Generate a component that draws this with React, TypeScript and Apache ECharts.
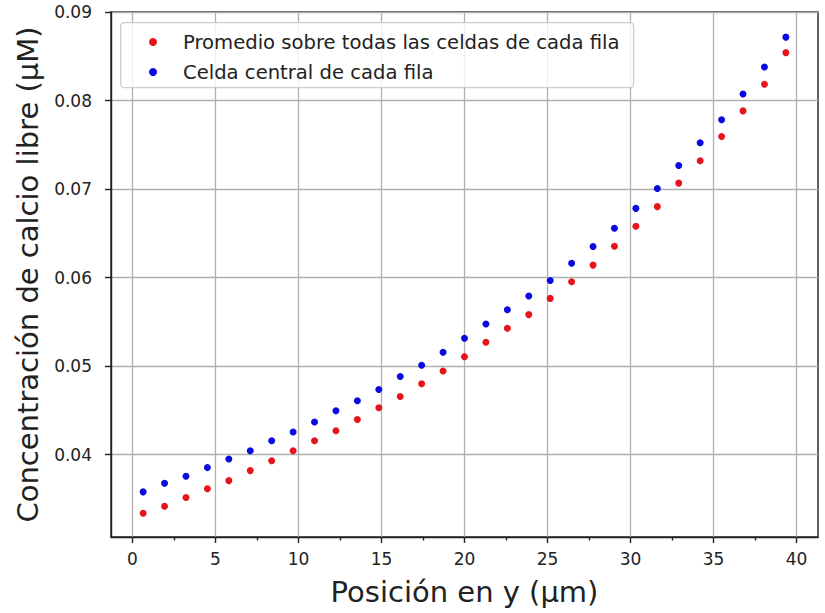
import React, { useEffect, useRef } from "react";
import * as echarts from "echarts";

// Position along y (µm): cell centres of each row
const posicionY = [
  0.645, 1.935, 3.226, 4.516, 5.806, 7.097, 8.387, 9.677, 10.968, 12.258,
  13.548, 14.839, 16.129, 17.419, 18.71, 20.0, 21.29, 22.581, 23.871, 25.161,
  26.452, 27.742, 29.032, 30.323, 31.613, 32.903, 34.194, 35.484, 36.774,
  38.065, 39.355,
];

// Average over all cells of each row (µM)
const promedio = [
  0.03339, 0.03418, 0.03516, 0.03614, 0.03707, 0.0382, 0.03932, 0.04045,
  0.04158, 0.0427, 0.04398, 0.04529, 0.04657, 0.048, 0.04946, 0.05107,
  0.05269, 0.05427, 0.05582, 0.05765, 0.05954, 0.06141, 0.06355, 0.0658,
  0.06802, 0.07067, 0.0732, 0.07594, 0.07883, 0.08184, 0.08541,
];

// Central cell of each row (µM)
const central = [
  0.0358, 0.03677, 0.03756, 0.03854, 0.03951, 0.04045, 0.04158, 0.04256,
  0.04368, 0.04495, 0.04608, 0.04736, 0.04882, 0.0501, 0.05157, 0.05314,
  0.05475, 0.05636, 0.05792, 0.05968, 0.06163, 0.06351, 0.06557, 0.06782,
  0.07007, 0.07266, 0.07523, 0.07782, 0.08074, 0.08378, 0.08716,
];

const xTicks = [0, 5, 10, 15, 20, 25, 30, 35, 40];
const xMinorTicks = [2.5, 7.5, 12.5, 17.5, 22.5, 27.5, 32.5, 37.5];
const yTicks = [0.04, 0.05, 0.06, 0.07, 0.08, 0.09];

const seriesNames = [
  "Promedio sobre todas las celdas de cada fila",
  "Celda central de cada fila",
];

const FONT = "'DejaVu Sans', sans-serif";
const INK = "#222";

export default function App() {
  const ref = useRef<HTMLDivElement>(null);

  useEffect(() => {
    document.body.style.margin = "0";
    const chart = echarts.init(ref.current!, null, { renderer: "svg" });
    const xMin = -1.29;
    const xMax = 41.29;
    const yMin = 0.0307;
    const yMax = 0.09;
    const axisLineStyle = { color: INK, width: 1.4 };
    const gridLineStyle = { color: "#b0b0b0", width: 1.3 };
    chart.setOption({
      animation: false,
      backgroundColor: "#ffffff",
      grid: {
        left: 111,
        right: 7,
        top: 12,
        bottom: 76,
        show: true,
        borderColor: INK,
        borderWidth: 1.4,
        backgroundColor: "transparent",
      },
      graphic: [
        {
          type: "rect",
          left: 120,
          top: 22,
          z: 5,
          shape: { width: 513, height: 65, r: 4 },
          style: {
            fill: "rgba(255,255,255,0.8)",
            stroke: "#cccccc",
            lineWidth: 1.3,
          },
        },
      ],
      legend: {
        z: 10,
        orient: "vertical",
        left: 144,
        top: 25,
        itemGap: 6,
        itemWidth: 8,
        itemHeight: 8,
        icon: "circle",
        data: seriesNames,
        textStyle: {
          fontFamily: FONT,
          fontSize: 19.6,
          color: INK,
          lineHeight: 24,
          padding: [0, 0, 0, 21],
        },
      },
      xAxis: [
        {
          type: "value",
          min: xMin,
          max: xMax,
          splitNumber: 8,
          axisLine: { show: true, onZero: false, lineStyle: axisLineStyle },
          axisTick: {
            show: true,
            customValues: xTicks,
            length: 6,
            lineStyle: axisLineStyle,
          },
          axisLabel: {
            customValues: xTicks,
            margin: 13,
            fontFamily: FONT,
            fontSize: 17,
            color: INK,
          },
          splitLine: { show: true, lineStyle: gridLineStyle },
          name: "Posición en y (µm)",
          nameLocation: "middle",
          nameGap: 40,
          nameTextStyle: { fontFamily: FONT, fontSize: 29, color: INK },
        },
        {
          type: "value",
          min: xMin,
          max: xMax,
          position: "bottom",
          axisLine: { show: false, onZero: false },
          axisTick: {
            show: true,
            customValues: xMinorTicks,
            length: 3.5,
            lineStyle: axisLineStyle,
          },
          axisLabel: { show: false },
          splitLine: { show: false },
        },
      ],
      yAxis: {
        type: "value",
        min: yMin,
        max: yMax,
        splitNumber: 6,
        axisLine: { show: true, onZero: false, lineStyle: axisLineStyle },
        axisTick: {
          show: true,
          customValues: yTicks,
          length: 6,
          lineStyle: axisLineStyle,
        },
        axisLabel: {
          customValues: yTicks,
          formatter: (v: number) => v.toFixed(2),
          margin: 19,
          fontFamily: FONT,
          fontSize: 17,
          color: INK,
        },
        splitLine: { show: true, lineStyle: gridLineStyle },
        name: "Concentración de calcio libre (µM)",
        nameLocation: "middle",
        nameRotate: 90,
        nameGap: 69,
        nameTextStyle: { fontFamily: FONT, fontSize: 29, color: INK },
      },
      series: [
        {
          name: seriesNames[0],
          type: "scatter",
          xAxisIndex: 0,
          symbol: "circle",
          symbolSize: 7,
          itemStyle: { color: "#e8141c", opacity: 1 },
          data: posicionY.map((x, i) => [x, promedio[i]]),
        },
        {
          name: seriesNames[1],
          type: "scatter",
          xAxisIndex: 0,
          symbol: "circle",
          symbolSize: 7,
          itemStyle: { color: "#0a0ae0", opacity: 1 },
          data: posicionY.map((x, i) => [x, central[i]]),
        },
      ],
    });
    return () => chart.dispose();
  }, []);

  return (
    <div
      ref={ref}
      style={{ position: "fixed", left: 0, top: 0, width: 825, height: 613 }}
    />
  );
}
